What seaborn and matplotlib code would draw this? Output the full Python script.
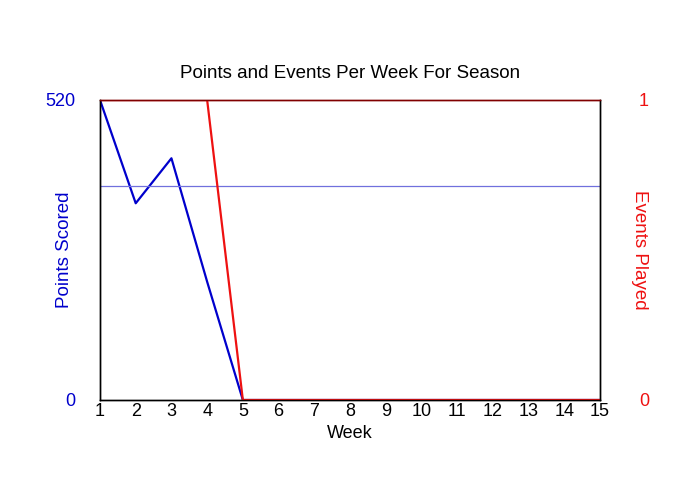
import matplotlib
matplotlib.use("Agg")
import matplotlib.pyplot as plt
import seaborn as sbn
import pandas as pd

weeks = list(range(1, 16))
points = [520, 341, 419, 205, 0, 0, 0, 0, 0, 0, 0, 0, 0, 0, 0]
events = [1, 1, 1, 1, 0, 0, 0, 0, 0, 0, 0, 0, 0, 0, 0]
avg_points = 371

df = pd.DataFrame({"week": weeks, "points": points, "events": events})

sbn.set_style("white")
plt.rcParams["font.family"] = ["Liberation Sans", "DejaVu Sans"]
plt.rcParams["text.color"] = "black"
plt.rcParams["axes.labelcolor"] = "black"

fig = plt.figure(figsize=(7, 5), dpi=100)
ax = fig.add_axes([100 / 700, 0.2, 500 / 700, 0.6])
ax2 = ax.twinx()

sbn.lineplot(data=df, x="week", y="points", ax=ax, color="#0000cc", linewidth=1.6)
ax.axhline(avg_points, color="#7070dd", linewidth=0.9)
sbn.lineplot(data=df, x="week", y="events", ax=ax2, color="#ee1111", linewidth=1.6)

ax.set_xlim(1, 15)
ax.set_ylim(0, 520)
ax2.set_ylim(0, 1)
ax.set_xticks(weeks)
ax.set_yticks([0, 520])
ax2.set_yticks([0, 1])
ax.tick_params(axis="x", length=0, pad=2, labelsize=13, labelcolor="black")
ax.tick_params(axis="y", length=0, pad=18, labelsize=13, labelcolor="#0000cc")
ax2.tick_params(axis="y", length=0, pad=28, labelsize=13, labelcolor="#ee1111")

ax.set_xlabel("Week", fontsize=13, labelpad=4)
ax.set_ylabel("Points Scored", fontsize=13.5, color="#0000cc", labelpad=-20)
ax2.set_ylabel("Events Played", fontsize=13.5, color="#ee1111", rotation=270, labelpad=-1)
ax.set_title("Points and Events Per Week For Season", fontsize=13.5, pad=16)

for a in (ax, ax2):
    for s in a.spines.values():
        s.set_color("black")
        s.set_linewidth(1)
    a.spines["top"].set_color("#800000")
    a.grid(False)

fig.savefig("out.png", dpi=100)
